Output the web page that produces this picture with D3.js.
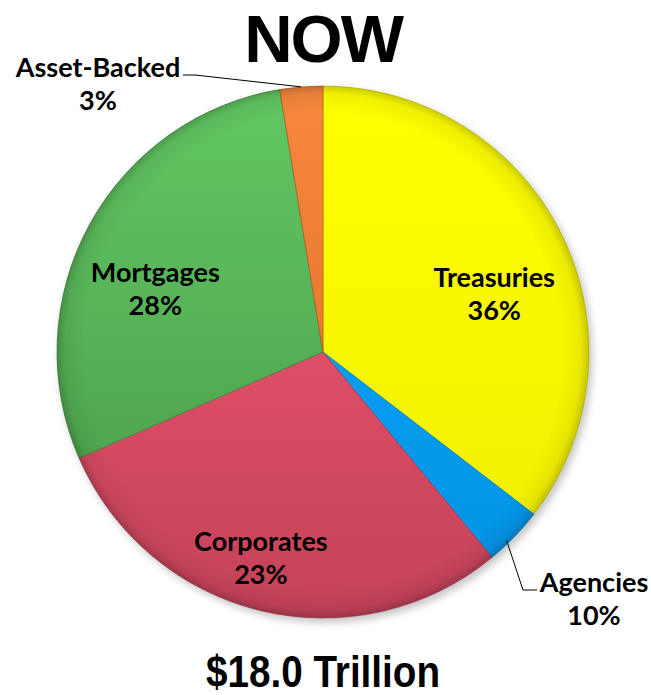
<!DOCTYPE html>
<html>
<head>
<meta charset="utf-8">
<script src="https://cdn.jsdelivr.net/npm/d3@7"></script>
<style>
  body { margin: 0; background: #fff; }
  svg { display: block; }
</style>
</head>
<body>
<div id="chart"></div>
<script>
var categories = ['Treasuries', 'Agencies', 'Corporates', 'Mortgages', 'Asset-Backed'];
var shares = [35.4, 3.6, 29.4, 28.9, 2.6];
var pct_labels = ['36%', '10%', '23%', '28%', '3%'];
var colors_top = ['#ffff00', '#10a8ff', '#f95b73', '#62c862', '#f7883c'];
var colors_bottom = ['#f2ee00', '#0092e4', '#c34258', '#479847', '#d86a22'];

var chart_width = 651;
var chart_height = 695;
var cx = 323, cy = 352, radius = 266;

var svg = d3.select('#chart')
  .append('svg')
  .attr('width', chart_width)
  .attr('height', chart_height);

var defs = svg.append('defs');

// one vertical gradient per slice (coordinates in the pie group's space)
categories.forEach(function(c, i) {
  var g = defs.append('linearGradient')
    .attr('id', 'grad' + i)
    .attr('gradientUnits', 'userSpaceOnUse')
    .attr('x1', 0).attr('y1', -radius)
    .attr('x2', 0).attr('y2', radius);
  g.append('stop').attr('offset', '0%').attr('stop-color', colors_top[i]);
  g.append('stop').attr('offset', '100%').attr('stop-color', colors_bottom[i]);
});

// rim shading
var rim = defs.append('radialGradient')
  .attr('id', 'rim')
  .attr('gradientUnits', 'userSpaceOnUse')
  .attr('cx', 0).attr('cy', 0).attr('r', radius);
rim.append('stop').attr('offset', '90%').attr('stop-color', '#000').attr('stop-opacity', 0);
rim.append('stop').attr('offset', '97%').attr('stop-color', '#000').attr('stop-opacity', 0.06);
rim.append('stop').attr('offset', '100%').attr('stop-color', '#000').attr('stop-opacity', 0.2);

// soft drop shadow
var shadow = defs.append('filter').attr('id', 'shadow')
  .attr('x', '-10%').attr('y', '-10%').attr('width', '120%').attr('height', '120%');
shadow.append('feGaussianBlur').attr('stdDeviation', 4);

var pie = d3.pie().sort(null).value(function(d) { return d; });
var arcs = pie(shares);

var arc = d3.arc().innerRadius(0).outerRadius(radius);

var g = svg.append('g').attr('transform', 'translate(' + cx + ',' + cy + ')');

g.append('circle')
  .attr('cx', 3).attr('cy', 4)
  .attr('r', radius)
  .attr('fill', '#000')
  .attr('opacity', 0.25)
  .attr('filter', 'url(#shadow)');

g.selectAll('path.slice')
  .data(arcs)
  .enter()
  .append('path')
  .attr('class', 'slice')
  .attr('d', arc)
  .attr('fill', function(d, i) { return 'url(#grad' + i + ')'; })
  .attr('stroke', function(d, i) { return d3.color(colors_bottom[i]).darker(0.5); })
  .attr('stroke-width', 0.7)
  .attr('stroke-linejoin', 'round');

g.append('circle')
  .attr('r', radius)
  .attr('fill', 'url(#rim)')
  .attr('pointer-events', 'none');

var label_font = 'Lato, "Open Sans", sans-serif';

function addLabel(x, y, name, pct) {
  var t = svg.append('text')
    .attr('text-anchor', 'middle')
    .attr('font-family', label_font)
    .attr('font-weight', 'bold')
    .attr('font-size', 27)
    .attr('fill', '#000');
  t.append('tspan').attr('x', x).attr('y', y).text(name);
  t.append('tspan').attr('x', x).attr('y', y + 33).text(pct);
}

// inside labels: [angle in degrees from 12 o'clock, distance from centre]
var label_pos = [[67, 186], null, [198, 201], [295, 185], null];
arcs.forEach(function(d, i) {
  if (!label_pos[i]) return;
  var a = label_pos[i][0] * Math.PI / 180;
  var r = label_pos[i][1];
  addLabel(cx + r * Math.sin(a), cy - r * Math.cos(a) + 8, categories[i], pct_labels[i]);
});

// outside labels with leader lines
var ag_ang = (arcs[1].startAngle + arcs[1].endAngle) / 2 + 0.03;
var ag_edge = [cx + radius * 0.99 * Math.sin(ag_ang), cy - radius * 0.99 * Math.cos(ag_ang)];
svg.append('polyline')
  .attr('points', [ag_edge, [523, 590], [537, 590]].map(function(p) { return p.join(','); }).join(' '))
  .attr('fill', 'none')
  .attr('stroke', '#000')
  .attr('stroke-width', 1);
addLabel(594, 592, categories[1], pct_labels[1]);

var ab_mid = (arcs[4].startAngle + arcs[4].endAngle) / 2;
var ab_edge = [cx + radius * Math.sin(ab_mid), cy - radius * Math.cos(ab_mid)];
svg.append('polyline')
  .attr('points', [[183, 75], [195, 75], ab_edge].map(function(p) { return p.join(','); }).join(' '))
  .attr('fill', 'none')
  .attr('stroke', '#000')
  .attr('stroke-width', 1);
addLabel(98, 77, categories[4], pct_labels[4]);

// title and total
svg.append('text')
  .attr('x', cx).attr('y', 62)
  .attr('text-anchor', 'middle')
  .attr('font-family', '"Liberation Sans", Arial, sans-serif')
  .attr('font-weight', 'bold')
  .attr('font-size', 67)
  .attr('letter-spacing', -2)
  .text('NOW');

svg.append('text')
  .attr('x', cx).attr('y', 687)
  .attr('text-anchor', 'middle')
  .attr('font-family', '"Liberation Sans", Arial, sans-serif')
  .attr('font-weight', 'bold')
  .attr('font-size', 44)
  .attr('textLength', 234)
  .attr('lengthAdjust', 'spacingAndGlyphs')
  .text('$18.0 Trillion');
</script>
</body>
</html>
